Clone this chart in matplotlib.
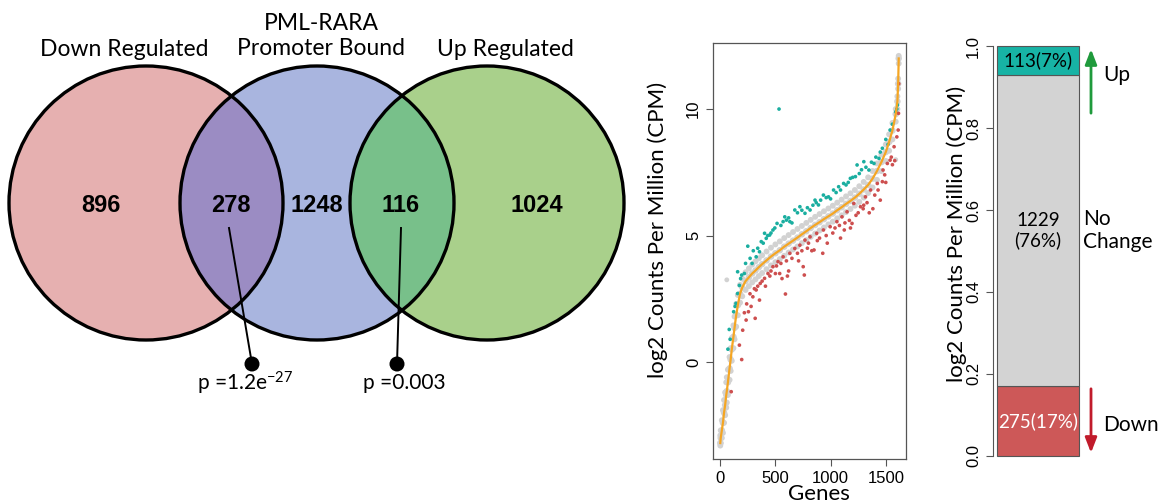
import matplotlib
matplotlib.use("Agg")
import matplotlib.pyplot as plt
from matplotlib.patches import Circle

plt.rcParams["mathtext.fontset"] = "custom"
plt.rcParams["mathtext.rm"] = "Lato"
plt.rcParams["mathtext.it"] = "Lato:italic"

# ---- Venn data ----
venn_titles = ["Down Regulated", "PML-RARA\nPromoter Bound", "Up Regulated"]
venn_counts = [896, 278, 1248, 116, 1024]
venn_pvals = ["p =1.2e$^{\\mathregular{-27}}$", "p =0.003"]

# ---- scatter data (sorted log2 CPM) ----
curve_x = [1, 5, 15, 25, 35, 45, 55, 60, 70, 85, 95, 105, 120, 130, 145, 160, 180, 200,
           230, 260, 290, 320, 350, 380, 420, 460, 500, 540, 580, 620, 660, 700, 740,
           780, 820, 860, 900, 940, 980, 1020, 1060, 1100, 1140, 1180, 1220, 1260, 1300,
           1340, 1380, 1420, 1460, 1500, 1530, 1560, 1590, 1605, 1612, 1617]
curve_y = [-3.2, -3.0, -2.7, -2.4, -2.0, -1.7, -1.3, -1.15, -0.8, -0.25, 0.1, 0.5, 1.0, 1.35,
           1.85, 2.25, 2.7, 2.95, 3.2, 3.35, 3.5, 3.62, 3.75, 3.87, 4.02, 4.17, 4.3, 4.42,
           4.56, 4.68, 4.8, 4.92, 5.05, 5.17, 5.3, 5.42, 5.53, 5.65, 5.76, 5.87, 6.0, 6.12,
           6.25, 6.37, 6.5, 6.65, 6.82, 7.0, 7.25, 7.55, 7.9, 8.3, 8.7, 9.15, 9.8, 10.3,
           11.0, 12.0]
gray_hi = [-2.9, -2.7, -2.3, -1.9, -1.5, -1.2, -0.8, -0.6, -0.3, 0.2, 0.55, 0.95, 1.45, 1.8,
           2.3, 2.65, 3.05, 3.3, 3.55, 3.7, 3.85, 3.98, 4.1, 4.22, 4.37, 4.52, 4.65, 4.77,
           4.9, 5.02, 5.14, 5.26, 5.38, 5.5, 5.62, 5.74, 5.85, 5.96, 6.07, 6.18, 6.3, 6.42,
           6.55, 6.67, 6.8, 6.95, 7.12, 7.3, 7.55, 7.85, 8.2, 8.6, 9.0, 9.45, 10.0, 10.5,
           11.2, 12.1]
gray_lo = [-3.3, -3.2, -3.0, -2.8, -2.4, -2.1, -1.8, -1.6, -1.3, -0.7, -0.35, 0.05, 0.55,
           0.9, 1.4, 1.85, 2.35, 2.6, 2.85, 3.0, 3.15, 3.27, 3.4, 3.52, 3.67, 3.82, 3.95,
           4.07, 4.2, 4.33, 4.45, 4.57, 4.7, 4.82, 4.95, 5.08, 5.2, 5.32, 5.44, 5.55, 5.68,
           5.8, 5.93, 6.05, 6.18, 6.33, 6.5, 6.68, 6.9, 7.2, 7.55, 7.95, 8.35, 8.8, 9.5,
           10.0, 10.8, 11.8]
gray_out_x = [60, 1590]
gray_out_y = [3.25, 8.0]

up_x = [70, 82, 90, 122, 135, 143, 158, 174, 158, 185, 195, 219, 230, 250, 271, 289, 300,
        326, 340, 356, 372, 390, 402, 417, 430, 448, 460, 478, 495, 515, 533, 550, 570,
        585, 600, 620, 631, 650, 676, 700, 722, 740, 768, 790, 814, 840, 859, 870, 890,
        910, 935, 960, 981, 1000, 1027, 1050, 1073, 1090, 1118, 1140, 1160, 1179, 1200,
        1225, 1240, 1260, 1280, 1301, 1320, 1347, 1370, 1393, 1410, 1438, 1450, 1469,
        1500, 1520, 1539, 1560, 1590, 1600, 1606]
up_y = [0.51, 1.29, 0.9, 1.99, 2.2, 2.32, 2.71, 3.03, 3.57, 3.3, 3.44, 3.5, 3.9, 4.58,
        4.1, 3.9, 4.4, 4.16, 4.5, 4.36, 4.76, 4.7, 5.09, 4.89, 5.0, 5.02, 5.1, 5.22, 5.3,
        5.48, 10.0, 5.4, 5.55, 5.74, 5.61, 5.7, 5.55, 5.5, 6.01, 5.9, 6.14, 6.0, 5.88,
        6.1, 6.01, 6.2, 6.4, 6.3, 6.21, 6.4, 6.6, 6.5, 6.53, 6.45, 6.8, 6.7, 6.93, 6.8,
        7.06, 7.0, 7.1, 7.26, 7.3, 7.33, 7.79, 7.45, 7.6, 7.92, 7.7, 7.59, 7.9, 7.85, 8.1,
        8.05, 8.3, 8.45, 8.8, 8.6, 9.17, 9.4, 9.89, 10.0, 10.16]

down_x = [100, 174, 195, 204, 219, 235, 240, 256, 270, 280, 296, 310, 317, 326, 340, 356,
          363, 380, 402, 410, 433, 450, 460, 478, 500, 510, 524, 539, 550, 560, 570, 591,
          600, 609, 620, 631, 650, 676, 700, 710, 722, 740, 752, 762, 768, 790, 800, 814,
          830, 850, 874, 880, 900, 929, 935, 960, 970, 996, 1020, 1040, 1057, 1080, 1090,
          1103, 1124, 1130, 1149, 1170, 1180, 1194, 1210, 1230, 1250, 1271, 1295, 1300,
          1316, 1330, 1350, 1362, 1383, 1400, 1423, 1430, 1450, 1469, 1475, 1490, 1500,
          1514, 1539, 1550, 1560, 1575, 1581, 1600, 1612, 1615, 1617]
down_y = [-1.17, 0.67, 0.1, 1.26, 1.95, 1.66, 2.3, 1.99, 2.7, 2.2, 2.58, 2.9, 1.73, 2.85,
          3.0, 2.45, 3.11, 3.2, 3.31, 3.0, 3.5, 3.4, 3.6, 3.77, 3.5, 3.8, 3.97, 3.5, 3.9,
          3.3, 4.16, 2.69, 4.0, 3.4, 3.6, 4.3, 4.1, 4.49, 4.3, 4.0, 4.62, 4.4, 3.77, 3.44,
          4.82, 4.5, 4.7, 4.95, 4.4, 4.43, 5.09, 4.8, 4.9, 4.3, 5.22, 5.0, 4.7, 5.35, 5.1,
          5.3, 5.55, 5.4, 4.9, 5.74, 5.22, 5.5, 5.94, 5.6, 5.3, 5.48, 6.27, 5.8, 5.9, 6.14,
          6.06, 6.2, 6.53, 6.3, 5.9, 6.8, 6.06, 6.6, 7.06, 6.8, 6.4, 7.13, 7.59, 7.4, 7.1,
          7.85, 7.98, 8.1, 7.8, 8.51, 7.96, 8.9, 9.17, 9.83, 11.0]

# ---- bar data ----
bar_counts = [275, 1229, 113]
bar_colors = ["#cd5858", "#d3d3d3", "#17b3a5"]

W, H = 1159, 504
fig = plt.figure(figsize=(W / 100, H / 100), dpi=100)
lab_font = "Lato"
num_font = "Liberation Sans"

# ================= Venn =================
av = fig.add_axes([0, 0, 650 / W, 1])
av.set_xlim(0, 650)
av.set_ylim(H, 0)
av.axis("off")
centers = [(146, 203), (317, 203), (487, 203)]
r = 137
fills = ["#e6b0b0", "#a9b5df", "#a9d08b"]
for c, f in zip(centers, fills):
    av.add_patch(Circle(c, r, facecolor=f, edgecolor="none"))
lens_cols = ["#9b8cc3", "#78c08a"]
for i, col in enumerate(lens_cols):
    clip = Circle(centers[i], r, transform=av.transData)
    p = Circle(centers[i + 1], r, facecolor=col, edgecolor="none")
    av.add_patch(p)
    p.set_clip_path(clip)
for c in centers:
    av.add_patch(Circle(c, r, facecolor="none", edgecolor="black", lw=2.4))

title_pos = [(124, 50), (321, 36), (505, 50)]
for t, (x, y) in zip(venn_titles, title_pos):
    av.text(x, y, t, ha="center", va="center", fontsize=16.5, family=lab_font,
            linespacing=1.2)
num_x = [101, 231, 317, 401, 537]
for n, x in zip(venn_counts, num_x):
    av.text(x, 205, str(n), ha="center", va="center", fontsize=17,
            fontweight="bold", family=num_font)

# p-value pointers
ptr = [((229, 228), (252, 364)), ((401, 228), (397, 364))]
ptxt_x = [197, 363]
for (a, b), tx, pt in zip(ptr, ptxt_x, venn_pvals):
    av.plot([a[0], b[0]], [a[1], b[1]], color="black", lw=1.4)
    av.add_patch(Circle(b, 7.5, facecolor="black", edgecolor="none"))
    av.text(tx, 383, pt, ha="left", va="center", fontsize=15, family=lab_font)

# ================= scatter =================
ax = fig.add_axes([713 / W, (H - 459) / H, 193 / W, 416 / H])
gcol = "#d2d2d2"
ax.scatter(curve_x, gray_hi, s=18, color=gcol, edgecolors="none")
ax.scatter(curve_x, gray_lo, s=18, color=gcol, edgecolors="none")
ax.scatter(curve_x, curve_y, s=22, color=gcol, edgecolors="none")
ax.scatter(gray_out_x, gray_out_y, s=12, color=gcol, edgecolors="none")
ax.scatter(up_x, up_y, s=7, color="#1aaea0", edgecolors="none")
ax.scatter(down_x, down_y, s=7, color="#cd4f4f", edgecolors="none")
ax.plot(curve_x, curve_y, color="#f5a623", lw=1.6)
ax.set_xlim(-65, 1683)
ax.set_ylim(-3.83, 12.61)
ax.set_xticks([0, 500, 1000, 1500])
ax.set_yticks([0, 5, 10])
for s in ax.spines.values():
    s.set_color("#555555")
    s.set_linewidth(0.9)
ax.tick_params(direction="out", length=5, color="#555555", labelsize=12)
for lb in ax.get_yticklabels():
    lb.set_rotation(90)
    lb.set_va("center")
    lb.set_family(num_font)
for lb in ax.get_xticklabels():
    lb.set_family(num_font)
ax.set_ylabel("log2 Counts Per Million (CPM)", fontsize=16, family=lab_font)
ax.yaxis.set_label_coords(-0.233, 0.55)
ax.set_xlabel("Genes", fontsize=16, family=lab_font, va="center")
ax.xaxis.set_label_coords(0.55, -0.085)

# ================= stacked bar =================
total = sum(bar_counts)
fracs = [c / total for c in bar_counts]
ab = fig.add_axes([993 / W, 32 / H, 166 / W, 442 / H])
ab.set_xlim(0, 166)
ab.set_ylim(-0.04, 1.04)
bottom = 0
mids = []
for fr, col in zip(fracs, bar_colors):
    ab.bar(45, fr, width=82, bottom=bottom, color=col, edgecolor="#555555", lw=0.8)
    mids.append(bottom + fr / 2)
    bottom += fr
for s in ["top", "right", "bottom"]:
    ab.spines[s].set_visible(False)
ab.spines["left"].set_bounds(0, 1)
ab.spines["left"].set_color("#555555")
ab.set_xticks([])
ab.set_yticks([0, 0.2, 0.4, 0.6, 0.8, 1.0])
ab.set_yticklabels(["0.0", "0.2", "0.4", "0.6", "0.8", "1.0"])
ab.tick_params(direction="out", length=5, color="#555555", labelsize=12)
for lb in ab.get_yticklabels():
    lb.set_rotation(90)
    lb.set_va("center")
    lb.set_family(num_font)
ab.set_ylabel("log2 Counts Per Million (CPM)", fontsize=16, family=lab_font)
ab.yaxis.set_label_coords(-0.157, 0.538)

pct = [round(100 * f) for f in fracs]
ab.text(45, mids[0], f"{bar_counts[0]}({pct[0]}%)", ha="center", va="center",
        fontsize=13.5, color="white", family=lab_font)
ab.text(45, mids[1], f"{bar_counts[1]}\n({pct[1]}%)", ha="center", va="center",
        fontsize=13.5, family=lab_font, linespacing=1.2)
ab.text(45, mids[2], f"{bar_counts[2]}({pct[2]}%)", ha="center", va="center",
        fontsize=13.5, family=lab_font)
ab.annotate("", xy=(98, 1.0), xytext=(98, 0.83),
            arrowprops=dict(arrowstyle="-|>,head_width=0.35,head_length=0.9",
                            color="#1f9a3c", lw=2))
ab.annotate("", xy=(98, 0.0), xytext=(98, fracs[0]),
            arrowprops=dict(arrowstyle="-|>,head_width=0.35,head_length=0.9",
                            color="#c11b2b", lw=2))
ab.text(110, 0.93, "Up", ha="left", va="center", fontsize=15, family=lab_font)
ab.text(90, 0.55, "No\nChange", ha="left", va="center", fontsize=15, family=lab_font,
        linespacing=1.2)
ab.text(110, 0.075, "Down", ha="left", va="center", fontsize=15, family=lab_font)

fig.savefig("out.png", dpi=100)
